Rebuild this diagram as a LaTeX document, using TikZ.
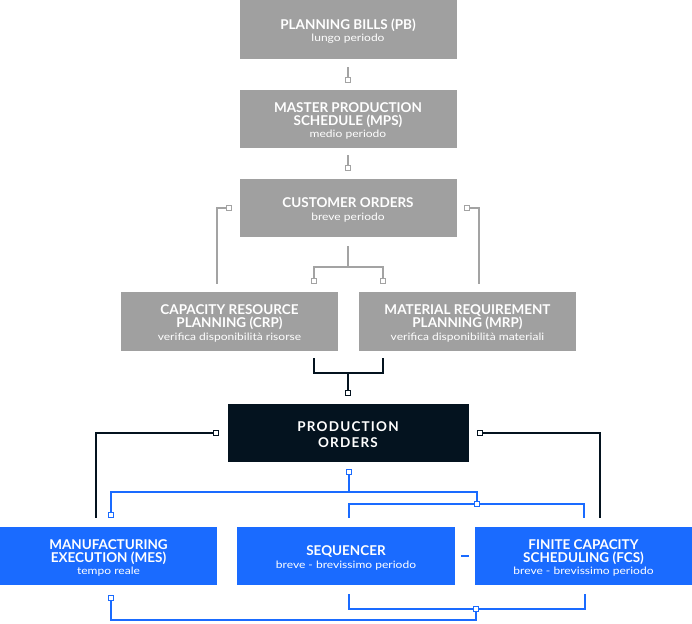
\documentclass[tikz,border=0pt]{standalone}
\usepackage{fontspec}
\setmainfont{Lato}
\newfontfamily\spaced[LetterSpace=9]{Lato}
\newfontfamily\subfont[FakeStretch=1.18]{Lato}
\usetikzlibrary{calc}
\definecolor{boxgray}{HTML}{A0A0A0}
\definecolor{linegray}{HTML}{A3A3A3}
\definecolor{navy}{HTML}{04131F}
\definecolor{bblue}{HTML}{1A6BFF}
\newcommand{\subt}[1]{{\subfont\mdseries\fontsize{10.2}{12}\selectfont #1}}
\newcommand{\tstrut}{\rule{0pt}{13.6pt}}
\begin{document}
\begin{tikzpicture}[x=1pt,y=-1pt,
  box/.style={draw=none, minimum width=217pt, minimum height=58pt, inner sep=0pt, align=center, text=white, font=\fontsize{13.5}{13}\selectfont\bfseries},
  graybox/.style={box, fill=boxgray},
  bluebox/.style={box, fill=bblue},
  darkbox/.style={box, fill=navy, minimum width=241pt, font=\spaced\fontsize{13.5}{16}\selectfont\bfseries},
  port/.style={draw, fill=white, minimum size=4.5pt, inner sep=0pt, line width=1.3pt},
  gport/.style={port, draw=linegray},
  dport/.style={port, draw=navy},
  bport/.style={port, draw=bblue},
  gline/.style={draw=linegray, line width=1.6pt},
  dline/.style={draw=navy, line width=1.5pt},
  bline/.style={draw=bblue, line width=1.5pt},
]
\fill[white] (0,0) rectangle (692,623);
\useasboundingbox (0,0) rectangle (692,623);

% boxes
\node[graybox, minimum height=59pt] (pb) at (348,29.5) {\tstrut PLANNING BILLS (PB)\\[-0.8pt]\subt{lungo periodo}};
\node[graybox] (mps) at (348,119) {\tstrut MASTER PRODUCTION\\SCHEDULE (MPS)\\[-0.8pt]\subt{medio periodo}};
\node[graybox] (co) at (348,208) {\tstrut CUSTOMER ORDERS\\[-0.8pt]\subt{breve periodo}};
\node[graybox, minimum height=59pt] (crp) at (229.5,321.5) {\tstrut CAPACITY RESOURCE\\PLANNING (CRP)\\[-0.8pt]\subt{verifica disponibilità risorse}};
\node[graybox, minimum height=59pt] (mrp) at (467.5,321.5) {\tstrut MATERIAL REQUIREMENT\\PLANNING (MRP)\\[-0.8pt]\subt{verifica disponibilità materiali}};
\node[darkbox] (po) at (348,433) {\tstrut PRODUCTION\\ORDERS};
\node[bluebox] (mes) at (108.5,556) {\tstrut MANUFACTURING\\EXECUTION (MES)\\[-0.8pt]\subt{tempo reale}};
\node[bluebox, minimum width=218pt] (seq) at (346,556) {\tstrut SEQUENCER\\[-0.8pt]\subt{breve - brevissimo periodo}};
\node[bluebox] (fcs) at (583.5,556) {\tstrut FINITE CAPACITY\\SCHEDULING (FCS)\\[-0.8pt]\subt{breve - brevissimo periodo}};

% ports
\node[gport] (q1) at (348,80) {};
\node[gport] (q2) at (348,168) {};
\node[gport] (q3) at (314,281) {};
\node[gport] (q4) at (383,281) {};
\node[gport] (q5) at (229,208) {};
\node[gport] (q6) at (467,208) {};
\node[dport] (d1) at (348,393) {};
\node[dport] (d2) at (216,433) {};
\node[dport] (d3) at (480,433) {};
\node[bport] (b1) at (349,472) {};
\node[bport] (b2) at (111,515) {};
\node[bport] (b3) at (477,504) {};
\node[bport] (b4) at (111,598) {};
\node[bport] (b5) at (476,609) {};

% junction coordinates
\coordinate (cj) at (348,267);
\coordinate (dj) at (348,373);
\coordinate (bj) at (349,492);
\coordinate (bk) at (111,620);
\coordinate (crpr) at ([xshift=84.5pt,yshift=-7pt]crp.south);
\coordinate (mrpl) at ([xshift=-84.5pt,yshift=-7pt]mrp.south);

% gray connectors
\draw[gline] ([yshift=-8pt]pb.south) -- (q1);
\draw[gline] ([yshift=-7pt]mps.south) -- (q2);
\draw[gline] ([yshift=-9pt]co.south) -- (cj);
\draw[gline] (q3) -- (q3 |- cj) -- (q4 |- cj) -- (q4);
\draw[gline] ([xshift=-12.5pt,yshift=8pt]crp.north) |- (q5);
\draw[gline] ([xshift=11.5pt,yshift=8pt]mrp.north) |- (q6);

% dark connectors
\draw[dline] (crpr) |- (mrpl |- dj) -- (mrpl);
\draw[dline] (dj) -- (d1);
\draw[dline] (d2) -| ([xshift=-12.5pt,yshift=9pt]mes.north);
\draw[dline] (d3) -| ([xshift=16.5pt,yshift=9pt]fcs.north);

% blue connectors
\draw[bline] (b1) -- (bj);
\draw[bline] (b2) |- (b3 |- bj) -- (b3);
\draw[bline] ([xshift=3pt,yshift=9pt]seq.north) |- (b3);
\draw[bline] (b3) -| ([xshift=0.5pt,yshift=9pt]fcs.north);
\draw[bline] (b4) |- (b5 |- bk) -- (b5);
\draw[bline] ([xshift=3pt,yshift=-9pt]seq.south) |- (b5);
\draw[bline] (b5) -| ([xshift=1.5pt,yshift=-9pt]fcs.south);
\draw[bline] ([xshift=6pt]seq.east) -- ([xshift=-6pt]fcs.west);
\end{tikzpicture}
\end{document}
